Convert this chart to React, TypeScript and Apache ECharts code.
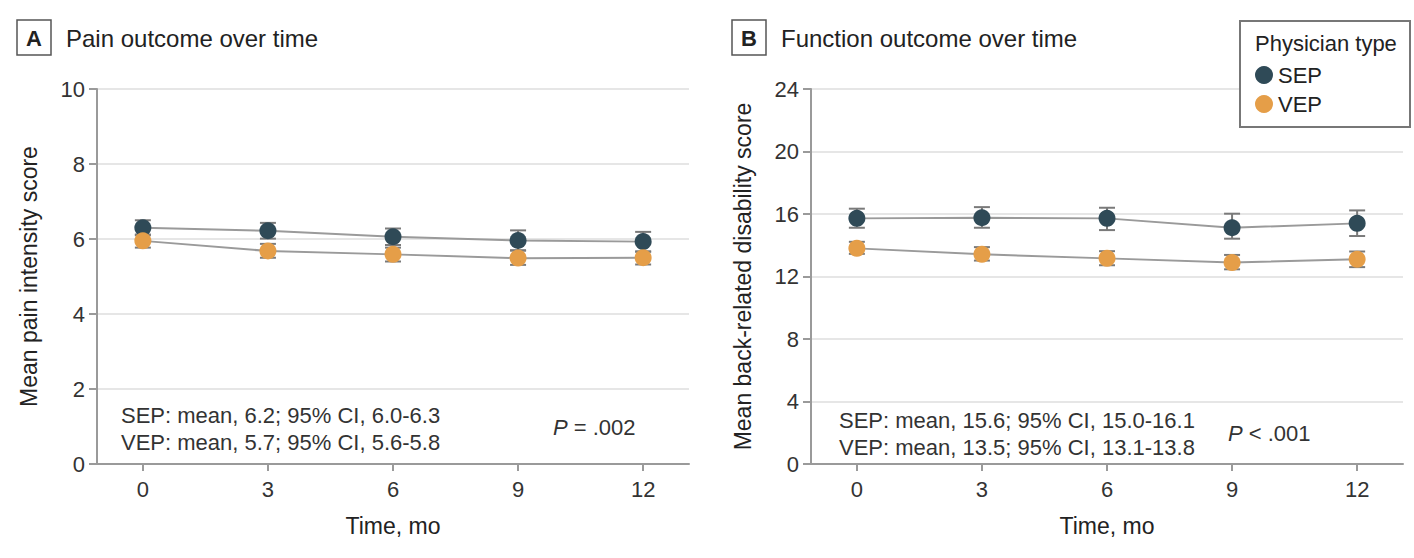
import React, { useEffect, useRef } from "react";
import * as echarts from "echarts";

const months = [0, 3, 6, 9, 12];
const xTicks = [0, 3, 6, 9, 12];

const sepPain = [6.3, 6.22, 6.06, 5.96, 5.93];
const sepPainLo = [6.1, 6.01, 5.84, 5.69, 5.67];
const sepPainHi = [6.5, 6.43, 6.28, 6.23, 6.19];
const vepPain = [5.95, 5.68, 5.59, 5.49, 5.5];
const vepPainLo = [5.77, 5.5, 5.4, 5.31, 5.32];
const vepPainHi = [6.12, 5.87, 5.77, 5.7, 5.66];

const sepFunc = [15.72, 15.76, 15.72, 15.12, 15.4];
const sepFuncLo = [15.12, 15.12, 14.97, 14.42, 14.59];
const sepFuncHi = [16.34, 16.44, 16.4, 16.02, 16.23];
const vepFunc = [13.8, 13.42, 13.16, 12.89, 13.1];
const vepFuncLo = [13.45, 13.02, 12.72, 12.46, 12.6];
const vepFuncHi = [14.22, 13.88, 13.62, 13.38, 13.6];

const SEP_COLOR = "#2f4a57";
const VEP_COLOR = "#e59e48";
const FONT = "'Liberation Sans', Arial, sans-serif";

const pts = (ys: number[]) => months.map((m, i) => [m, ys[i]]);
const errs = (lo: number[], hi: number[]) => months.map((m, i) => [m, lo[i], hi[i]]);

const errorRender = (params: any, api: any) => {
  const x = api.value(0);
  const pLo = api.coord([x, api.value(1)]);
  const pHi = api.coord([x, api.value(2)]);
  const w = 8;
  const st = { stroke: "#7a7a7a", lineWidth: 2 };
  return {
    type: "group",
    children: [
      { type: "line", shape: { x1: pLo[0], y1: pLo[1], x2: pHi[0], y2: pHi[1] }, style: st },
      { type: "line", shape: { x1: pLo[0] - w, y1: pLo[1], x2: pLo[0] + w, y2: pLo[1] }, style: st },
      { type: "line", shape: { x1: pHi[0] - w, y1: pHi[1], x2: pHi[0] + w, y2: pHi[1] }, style: st },
    ],
  };
};

const makeX = (gridIndex: number) => ({
  type: "value",
  gridIndex,
  min: -1.1,
  max: 13.1,
  name: "Time, mo",
  nameLocation: "middle",
  nameGap: 50,
  nameTextStyle: { fontSize: 23, color: "#222", fontFamily: FONT },
  axisLine: { show: true, onZero: false, lineStyle: { color: "#9a9a9a", width: 2 } },
  axisTick: { show: true, length: 7, customValues: xTicks, lineStyle: { color: "#9a9a9a", width: 2 } },
  axisLabel: { customValues: xTicks, fontSize: 22, color: "#333", margin: 14, fontFamily: FONT },
  splitLine: { show: false },
});

const makeY = (gridIndex: number, max: number, interval: number, name: string) => ({
  type: "value",
  gridIndex,
  min: 0,
  max,
  interval,
  name,
  nameLocation: "middle",
  nameGap: 57,
  nameTextStyle: { fontSize: 23, color: "#222", fontFamily: FONT },
  axisLine: { show: true, onZero: false, lineStyle: { color: "#9a9a9a", width: 2 } },
  axisTick: { show: true, length: 8, lineStyle: { color: "#9a9a9a", width: 2 } },
  axisLabel: { fontSize: 22, color: "#333", margin: 12, fontFamily: FONT },
  splitLine: { show: true, lineStyle: { color: "#e6e6e6", width: 2 } },
});

const lineSeries = (name: string, data: number[][], color: string, idx: number) => ({
  name,
  type: "line",
  xAxisIndex: idx,
  yAxisIndex: idx,
  data,
  symbol: "circle",
  symbolSize: 17,
  itemStyle: { color },
  lineStyle: { color: "#9a9a9a", width: 2 },
  z: 3,
});

const errSeries = (data: number[][], idx: number) => ({
  type: "custom",
  xAxisIndex: idx,
  yAxisIndex: idx,
  data,
  encode: { x: 0, y: [1, 2] },
  renderItem: errorRender,
  z: 2,
  silent: true,
});

const titleBox = (letter: string, title: string, x: number) => [
  {
    type: "rect",
    shape: { x, y: 20, width: 34, height: 35 },
    style: { fill: "#fff", stroke: "#555", lineWidth: 1.5 },
  },
  {
    type: "text",
    x: x + 17,
    y: 38,
    style: { text: letter, fontSize: 22, fontWeight: "bold", fill: "#222", align: "center", verticalAlign: "middle", fontFamily: FONT },
  },
  {
    type: "text",
    x: x + 49,
    y: 38,
    style: { text: title, fontSize: 24, fill: "#222", verticalAlign: "middle", fontFamily: FONT },
  },
];

const annot = (text: string, x: number, y: number) => ({
  type: "text",
  x,
  y,
  style: { text, fontSize: 22, fill: "#333", verticalAlign: "middle", fontFamily: FONT },
});

const pText = (rest: string, x: number, y: number) => ({
  type: "text",
  x,
  y,
  style: {
    text: "{i|P}" + rest,
    fontSize: 22,
    fill: "#333",
    verticalAlign: "middle",
    fontFamily: FONT,
    rich: { i: { fontStyle: "italic", fontSize: 22, fill: "#333", fontFamily: FONT } },
  },
});

export default function App() {
  const ref = useRef<HTMLDivElement>(null);
  useEffect(() => {
    if (!ref.current) return;
    const chart = echarts.init(ref.current, null, { renderer: "svg" });
    chart.setOption({
      animation: false,
      backgroundColor: "#fff",
      textStyle: { fontFamily: FONT },
      grid: [
        { left: 97, top: 89, width: 592, height: 375 },
        { left: 811, top: 89, width: 592, height: 375 },
      ],
      xAxis: [makeX(0), makeX(1)],
      yAxis: [
        makeY(0, 10, 2, "Mean pain intensity score"),
        makeY(1, 24, 4, "Mean back-related disability score"),
      ],
      legend: {
        data: ["SEP", "VEP"],
        orient: "vertical",
        left: 1255,
        top: 64,
        icon: "circle",
        itemWidth: 18,
        itemHeight: 18,
        itemGap: 7,
        padding: 0,
        textStyle: { fontSize: 22, color: "#222", fontFamily: FONT },
        z: 20,
      },
      graphic: [
        ...titleBox("A", "Pain outcome over time", 17),
        ...titleBox("B", "Function outcome over time", 732),
        annot("SEP: mean, 6.2; 95% CI, 6.0-6.3", 121, 415),
        annot("VEP: mean, 5.7; 95% CI, 5.6-5.8", 121, 442),
        pText(" = .002", 553, 427),
        annot("SEP: mean, 15.6; 95% CI, 15.0-16.1", 839, 420),
        annot("VEP: mean, 13.5; 95% CI, 13.1-13.8", 839, 447),
        pText(" < .001", 1228, 433),
        {
          type: "rect",
          z: 10,
          shape: { x: 1240, y: 21, width: 170, height: 106 },
          style: { fill: "#fff", stroke: "#777", lineWidth: 2 },
        },
        {
          type: "text",
          z: 11,
          x: 1255,
          y: 43,
          style: { text: "Physician type", fontSize: 22, fill: "#222", verticalAlign: "middle", fontFamily: FONT },
        },
      ],
      series: [
        errSeries(errs(sepPainLo, sepPainHi), 0),
        errSeries(errs(vepPainLo, vepPainHi), 0),
        lineSeries("SEP", pts(sepPain), SEP_COLOR, 0),
        lineSeries("VEP", pts(vepPain), VEP_COLOR, 0),
        errSeries(errs(sepFuncLo, sepFuncHi), 1),
        errSeries(errs(vepFuncLo, vepFuncHi), 1),
        lineSeries("SEP", pts(sepFunc), SEP_COLOR, 1),
        lineSeries("VEP", pts(vepFunc), VEP_COLOR, 1),
      ],
    });
    return () => chart.dispose();
  }, []);
  return (
    <div
      ref={ref}
      style={{ position: "absolute", left: 0, top: 0, width: 1414, height: 558 }}
    />
  );
}
